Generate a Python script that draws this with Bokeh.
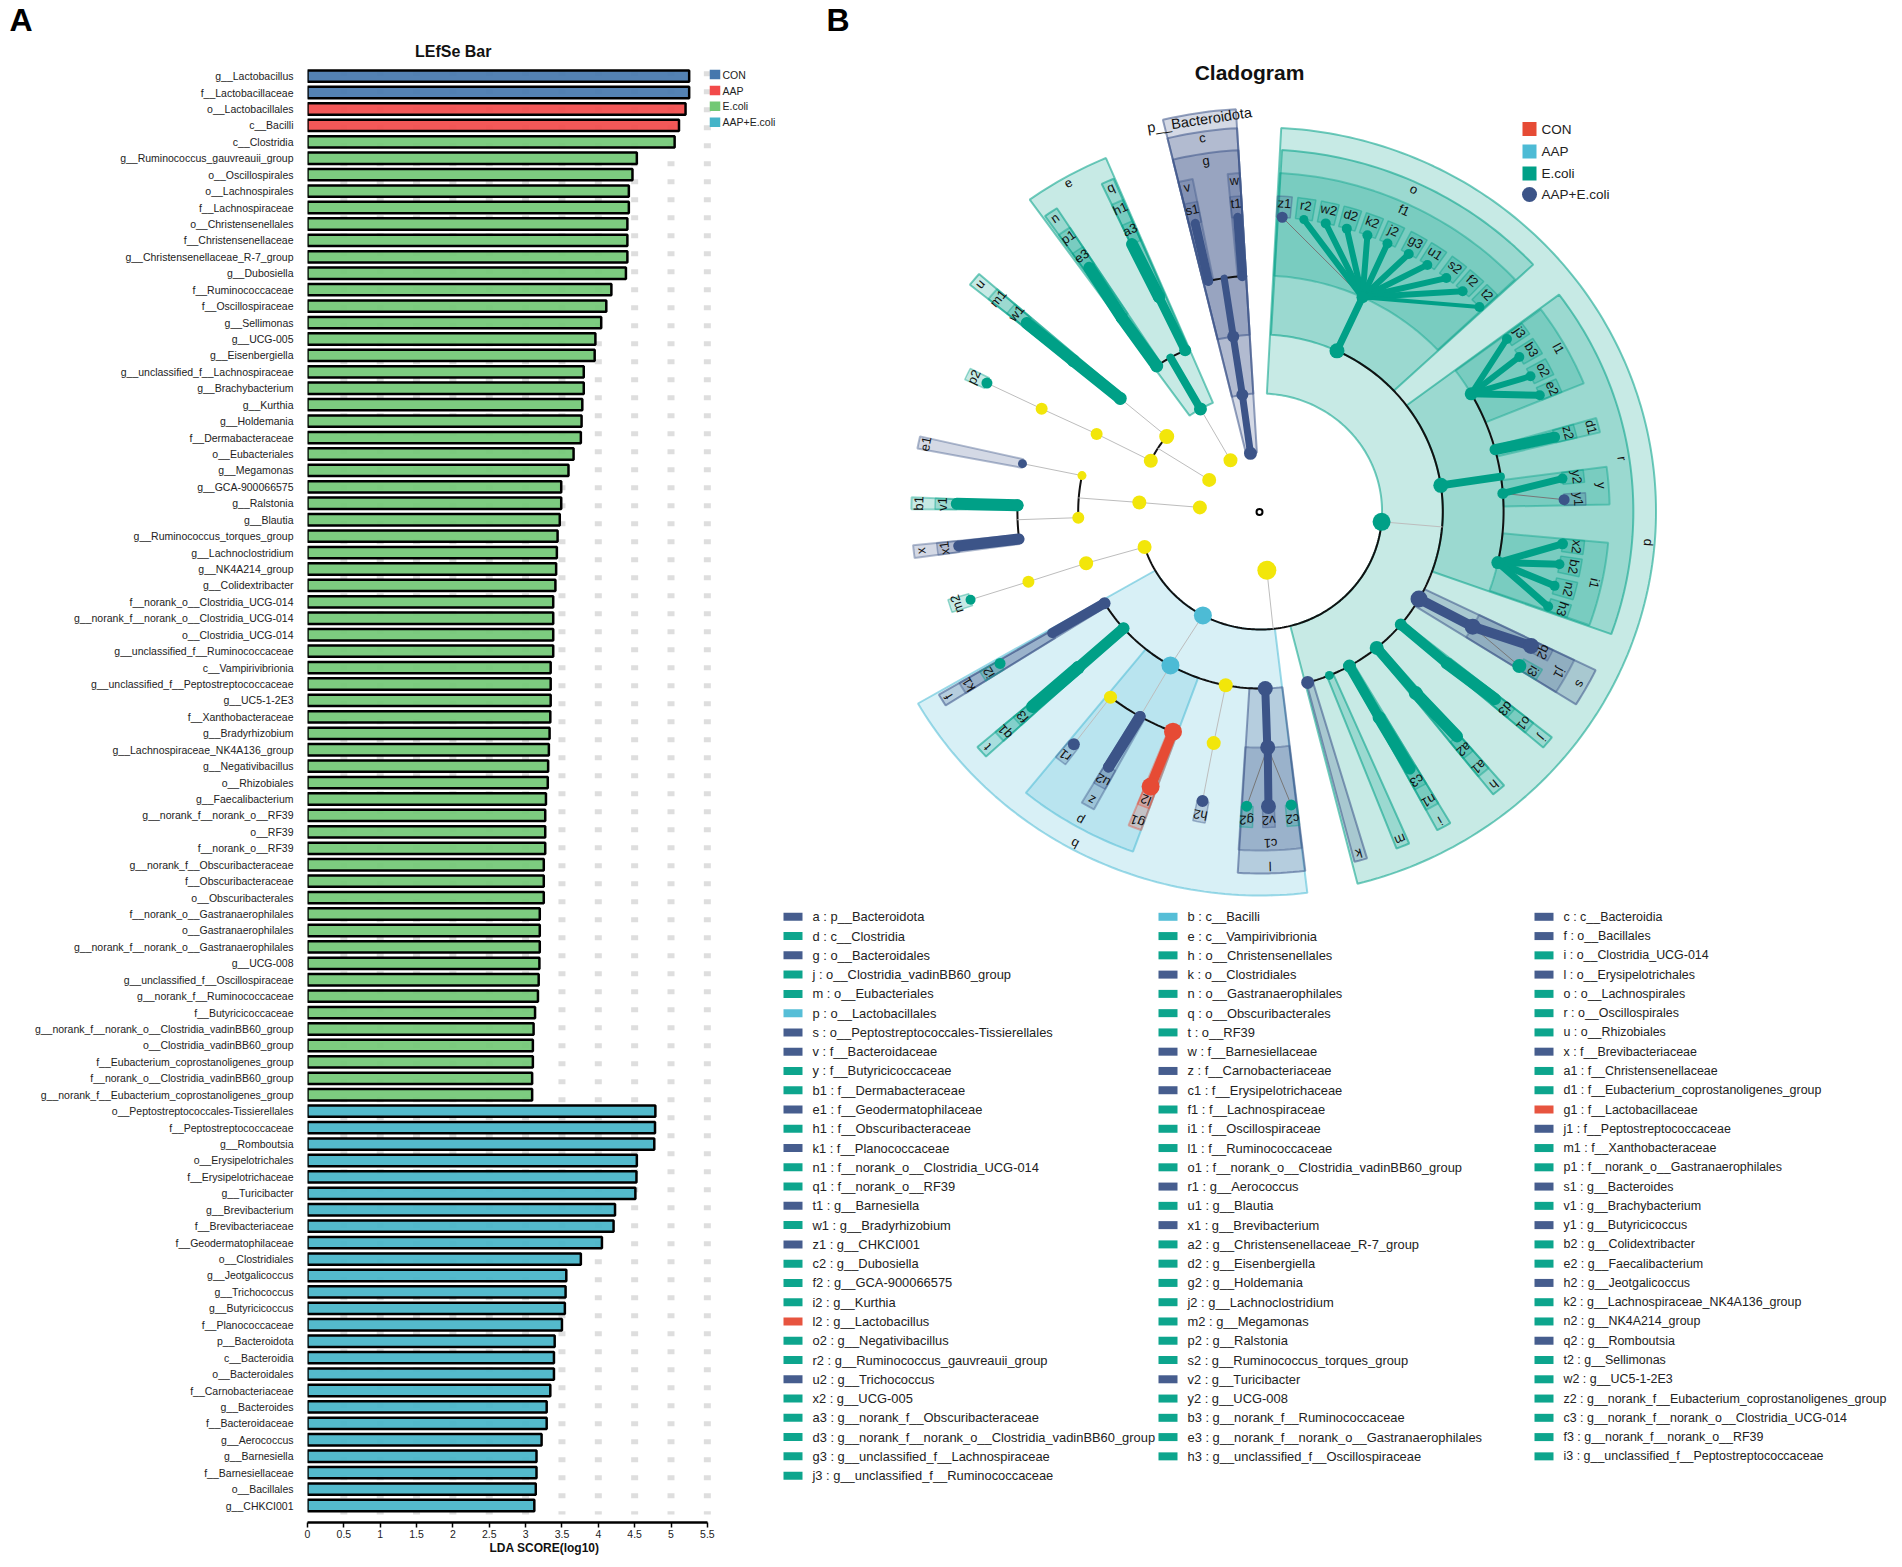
import math
from bokeh.embed import file_html
from bokeh.resources import INLINE
from bokeh.plotting import figure
from bokeh.layouts import row, column
from bokeh.models import FixedTicker, Range1d
from bokeh.core.properties import value

FONT = "Liberation Sans"

# ---------- Panel A data ----------
bar_names = [
 "g__Lactobacillus","f__Lactobacillaceae","o__Lactobacillales","c__Bacilli","c__Clostridia",
 "g__Ruminococcus_gauvreauii_group","o__Oscillospirales","o__Lachnospirales","f__Lachnospiraceae",
 "o__Christensenellales","f__Christensenellaceae","g__Christensenellaceae_R-7_group","g__Dubosiella",
 "f__Ruminococcaceae","f__Oscillospiraceae","g__Sellimonas","g__UCG-005","g__Eisenbergiella",
 "g__unclassified_f__Lachnospiraceae","g__Brachybacterium","g__Kurthia","g__Holdemania",
 "f__Dermabacteraceae","o__Eubacteriales","g__Megamonas","g__GCA-900066575","g__Ralstonia","g__Blautia",
 "g__Ruminococcus_torques_group","g__Lachnoclostridium","g__NK4A214_group","g__Colidextribacter",
 "f__norank_o__Clostridia_UCG-014","g__norank_f__norank_o__Clostridia_UCG-014","o__Clostridia_UCG-014",
 "g__unclassified_f__Ruminococcaceae","c__Vampirivibrionia","g__unclassified_f__Peptostreptococcaceae",
 "g__UC5-1-2E3","f__Xanthobacteraceae","g__Bradyrhizobium","g__Lachnospiraceae_NK4A136_group",
 "g__Negativibacillus","o__Rhizobiales","g__Faecalibacterium","g__norank_f__norank_o__RF39","o__RF39",
 "f__norank_o__RF39","g__norank_f__Obscuribacteraceae","f__Obscuribacteraceae","o__Obscuribacterales",
 "f__norank_o__Gastranaerophilales","o__Gastranaerophilales","g__norank_f__norank_o__Gastranaerophilales",
 "g__UCG-008","g__unclassified_f__Oscillospiraceae","g__norank_f__Ruminococcaceae","f__Butyricicoccaceae",
 "g__norank_f__norank_o__Clostridia_vadinBB60_group","o__Clostridia_vadinBB60_group",
 "f__Eubacterium_coprostanoligenes_group","f__norank_o__Clostridia_vadinBB60_group",
 "g__norank_f__Eubacterium_coprostanoligenes_group",
 "o__Peptostreptococcales-Tissierellales","f__Peptostreptococcaceae","g__Romboutsia","o__Erysipelotrichales",
 "f__Erysipelotrichaceae","g__Turicibacter","g__Brevibacterium","f__Brevibacteriaceae","f__Geodermatophilaceae",
 "o__Clostridiales","g__Jeotgalicoccus","g__Trichococcus","g__Butyricicoccus","f__Planococcaceae",
 "p__Bacteroidota","c__Bacteroidia","o__Bacteroidales","f__Carnobacteriaceae","g__Bacteroides","f__Bacteroidaceae",
 "g__Aerococcus","g__Barnesiella","f__Barnesiellaceae","o__Bacillales","g__CHKCI001"]
bar_values = [5.25,5.25,5.20,5.11,5.05,4.53,4.47,4.42,4.42,4.40,4.40,4.40,4.38,4.18,4.11,4.04,3.96,3.95,
 3.80,3.80,3.78,3.77,3.76,3.66,3.59,3.49,3.49,3.47,3.44,3.43,3.42,3.41,3.38,3.38,3.38,3.38,3.345,3.345,3.345,
 3.34,3.33,3.32,3.31,3.305,3.28,3.27,3.27,3.27,3.25,3.25,3.25,3.195,3.195,3.195,3.19,3.18,3.17,3.13,3.11,3.10,
 3.10,3.09,3.09,
 4.785,4.78,4.77,4.53,4.525,4.51,4.23,4.21,4.05,3.76,3.56,3.55,3.54,3.50,3.40,3.39,3.39,3.34,3.29,3.29,3.22,
 3.15,3.15,3.14,3.12]
group_sizes = [("CON",2),("AAP",2),("E.coli",59),("AAP+E.coli",25)]
bar_palette = {"CON":"#4577ad","AAP":"#f24a4a","E.coli":"#72c875","AAP+E.coli":"#45b4c8"}
x_ticks = [0,0.5,1,1.5,2,2.5,3,3.5,4,4.5,5,5.5]

bar_groups = [g for g,n in group_sizes for _ in range(n)]
rows = list(range(len(bar_names)))

W1=781; TOP=40; AXIS_Y=1522; PAGE_H=1560
X0=307; PXU = 72.7; ROW = 16.43; Y0=75.6
def ax(px): return (px-X0)/PXU
def ay(py): return (py-Y0)/ROW

head = figure(width=W1,height=TOP,output_backend="svg",toolbar_location=None,
              x_range=Range1d(0,W1),y_range=Range1d(TOP,0),x_axis_location=None,y_axis_location=None,
              min_border=0,background_fill_color="white",outline_line_color=None)
head.grid.visible=False
head.text(x=[9],y=[19.5],text=["A"],text_font=value(FONT),text_font_size="32px",text_font_style="bold",
          text_baseline="middle",text_color="black")

p1 = figure(width=W1,height=PAGE_H-TOP,output_backend="svg",toolbar_location=None,
            x_range=Range1d(0,(W1-X0)/PXU),y_range=Range1d(ay(AXIS_Y),ay(TOP)),
            min_border_left=X0,min_border_right=0,min_border_top=0,min_border_bottom=PAGE_H-AXIS_Y,
            background_fill_color="white",outline_line_color=None)
p1.grid.visible=False
xa=p1.xaxis[0]; ya=p1.yaxis[0]
xa.ticker=FixedTicker(ticks=x_ticks); xa.bounds=(0,5.5)
xa.major_label_overrides={t:str(t) for t in x_ticks}
xa.axis_line_color="black"; xa.axis_line_width=2.5
xa.major_tick_line_color="black"; xa.major_tick_line_width=1.5; xa.major_tick_out=5; xa.major_tick_in=0
xa.minor_tick_line_color=None
xa.major_label_text_font=FONT; xa.major_label_text_font_size="10.5px"; xa.major_label_text_color="#222222"
xa.major_label_standoff=2
xa.axis_label="LDA SCORE(log10)"; xa.axis_label_text_font=FONT; xa.axis_label_text_font_size="12px"
xa.axis_label_text_font_style="bold"; xa.axis_label_standoff=0; xa.axis_label_text_color="#111111"
ya.ticker=FixedTicker(ticks=rows)
ya.major_label_overrides={i:n for i,n in enumerate(bar_names)}
ya.axis_line_color=None; ya.major_tick_line_color=None; ya.minor_tick_line_color=None
ya.major_label_text_font=FONT; ya.major_label_text_font_size="10.5px"; ya.major_label_text_color="#222222"
ya.major_label_standoff=8

grid_x=[t for t in x_ticks if t>0]
p1.segment(x0=grid_x,x1=grid_x,y0=[ay(70.8)]*len(grid_x),y1=[ay(1514)]*len(grid_x),
           line_color="#dedede",line_width=7,line_dash="5 13")
p1.hbar(y=rows,left=0,right=bar_values,height=0.69,
        fill_color=[bar_palette[g] for g in bar_groups],fill_alpha=0.92,line_color="black",line_width=2.5)
p1.text(x=[ax(452.7)],y=[ay(50.5)],text=["LEfSe Bar"],text_font=value(FONT),text_font_size="16px",
        text_font_style="bold",text_align="center",text_baseline="middle",text_color="#111111")
leg_names=[g for g,_ in group_sizes]
leg_rows=[ay(74),ay(90),ay(105.7),ay(121.7)]
p1.rect(x=[ax(714.5)]*4,y=leg_rows,width=10.5/PXU,height=9.5/ROW,fill_color=[bar_palette[g] for g in leg_names],line_color=None)
p1.text(x=[ax(722)]*4,y=leg_rows,text=leg_names,text_font=value(FONT),text_font_size="10.5px",
        text_baseline="middle",text_color="#222222")

# ---------- Panel B data ----------
CON="#e64b35"; AAP="#4dbbd5"; EC="#00a087"; AE="#3c5488"; NS="#f2e60a"; THIN="#bdbdbd"
CX,CY,XS=1260,511,1.03
RING=[59,118,177,236,295]          # node rings
OUTER=[403,384,362,339,316]        # outer edge of the highlight that starts on a ring
LABEL_R=[396,378,355,332,309]      # label ring

# text, level, start angle, end angle, colour, label angle (None = middle)
sectors=[
 ("p__Bacteroidota",0,93.4,103.6,AE,98.6),("c",1,93.4,103.6,AE,98.6),("g",2,93.4,103.6,AE,98.6),
 ("v",3,101.2,103.6,AE,None),("w",3,93.4,95.4,AE,None),("s1",4,101.2,103.6,AE,None),("t1",4,93.4,95.4,AE,None),
 ("e",1,113,125.7,EC,119.6),("n",2,123.1,125.3,EC,None),("q",2,113.2,115.2,EC,None),("p1",3,123.1,125.3,EC,None),
 ("e3",4,123.1,125.3,EC,None),("h1",3,113.2,115.2,EC,None),("a3",4,113.2,115.2,EC,None),
 ("u",2,139,141.2,EC,None),("m1",3,139,141.2,EC,None),("w1",4,139,141.2,EC,None),("p2",4,153.1,155.3,EC,None),
 ("e1",3,167.2,169.3,AE,None),("b1",3,177.6,179.6,EC,None),("v1",4,177.6,179.6,EC,None),
 ("x",3,185.7,187.9,AE,None),("x1",4,185.7,187.9,AE,None),("m2",4,196.2,198.6,EC,None),
 ("d",1,-75.8,87,EC,-4.7),("o",2,43,86.7,EC,65.2),("f1",3,43.2,86.8,EC,65.2),
 ("z1",4,84.4,87,AE,None),("r2",4,80.2,83.4,EC,None),("w2",4,76,79.2,EC,None),("d2",4,71.9,75.1,EC,None),
 ("k2",4,67.8,71,EC,None),("j2",4,63.7,66.9,EC,None),("g3",4,59.2,62.4,EC,None),("u1",4,55.1,58.3,EC,None),
 ("s2",4,50.7,53.9,EC,None),("f2",4,46.7,49.9,EC,None),("t2",4,43.2,45.9,EC,None),
 ("r",2,-19.8,36.8,EC,8.6),("l1",3,22.2,36.6,EC,29.4),("j3",4,34.2,36.6,EC,None),("b3",4,30,33.2,EC,None),
 ("o2",4,25.7,28.9,EC,None),("e2",4,22.2,24.8,EC,None),("d1",3,13.5,16,EC,None),("z2",4,13.5,16,EC,None),
 ("y",3,1.2,7.6,EC,4.5),("y2",4,5.3,7.6,EC,None),("y1",4,1.2,3.4,AE,None),
 ("i1",3,-19.6,-5.3,EC,-12.5),("x2",4,-7.8,-5.3,EC,None),("b2",4,-11.9,-8.7,EC,None),("n2",4,-16.2,-13,EC,None),
 ("h3",4,-19.6,-17.2,EC,None),
 ("k",2,284.6,286.6,AE,None),("m",2,291.4,293.5,EC,None),("i",2,298.3,300.6,EC,None),("n1",3,298.3,300.6,EC,None),
 ("c3",4,298.3,300.6,EC,None),("h",2,308.6,310.8,EC,None),("a1",3,308.6,310.8,EC,None),("a2",4,308.6,310.8,EC,None),
 ("j",2,319.3,321.4,EC,None),("o1",3,319.3,321.4,EC,None),("d3",4,319.3,321.4,EC,None),
 ("s",2,327.8,334,AE,None),("j1",3,327.8,334,AE,None),("q2",4,331.8,334,AE,None),("i3",4,327.8,330,EC,None),
 ("b",1,210,276.8,AAP,241.5),("f",2,210.4,212.4,AE,None),("k1",3,210.4,212.4,AE,None),("i2",4,210.4,212.4,EC,None),
 ("t",2,220.6,222.6,EC,None),("q1",3,220.6,222.6,EC,None),("f3",4,220.6,222.6,EC,None),
 ("p",2,231,250,AAP,240.4),("r1",4,231,233.2,AE,None),("z",3,239.2,241.5,AE,None),("u2",4,239.2,241.5,AE,None),
 ("g1",3,247.8,250,CON,None),("l2",4,247.8,250,CON,None),("h2",4,258,260.2,AE,None),
 ("l",2,266.5,276.9,AE,271.5),("c1",3,266.4,276.8,AE,271.7),("g2",4,266.4,268.6,EC,None),("v2",4,270.4,272.6,AE,None),
 ("c2",4,274.7,276.9,EC,None),
]
# angle, ring, colour, diameter
nodes=[
 (276,0,NS,19),(119.6,0,NS,14),(147.6,0,NS,14),(176,0,NS,14),(140.5,1,NS,15),(154.5,1,NS,14),(175.6,1,NS,14),
 (197.5,1,NS,14),(154,2,NS,12),(168.3,2,NS,9),(182,2,NS,12),(197,2,NS,14),(154.2,3,NS,12),(197.3,3,NS,12),
 (231.9,3,NS,13),(259,2,NS,14),(258.9,3,NS,14),
 (-5,1,EC,18),(119.6,1,EC,13),(124.7,2,EC,13),(114.4,2,EC,12),(124.8,3,EC,12),(114.7,3,EC,12),(140.3,2,EC,13),
 (140.3,3,EC,13),(154.2,4,EC,11),(178.5,3,EC,12),(197.4,4,EC,10),(221.3,2,EC,12),(221.4,3,EC,13),(211,4,EC,11),
 (292.2,2,EC,9),(299.2,2,EC,13),(299.2,3,EC,13),(309.6,2,EC,14),(309.7,3,EC,14),(320.3,2,EC,12),(320,3,EC,12),
 (65.2,2,EC,15),(65.2,3,EC,12),(8.5,2,EC,15),(29.9,3,EC,13),(15.2,3,EC,10),(4.4,3,EC,11),(-12.5,3,EC,13),
 (81.8,4,EC,9),(77.6,4,EC,10),(73.5,4,EC,10),(69.4,4,EC,10),(65.3,4,EC,10),(60.8,4,EC,10),(56.7,4,EC,10),(52.3,4,EC,10),
 (48.3,4,EC,10),(43.9,4,EC,10),(35.8,4,EC,10),(31.6,4,EC,10),(27.3,4,EC,10),(23.2,4,EC,10),(14.6,4,EC,10),(6.4,4,EC,10),
 (-6.3,4,EC,11),(-10.3,4,EC,10),(-14.6,4,EC,10),(-18.8,4,EC,10),(328.4,4,EC,14),(267.4,4,EC,11),(275.8,4,EC,11),
 (99.5,0,AE,13),(98.6,1,AE,12),(98.6,2,AE,12),(102.4,3,AE,10),(94.3,3,AE,10),(168.3,3,AE,9),(186.7,3,AE,9),
 (211.2,2,AE,12),(240.3,3,AE,11),(240,4,AE,11),(232.1,4,AE,12),(259,4,AE,12),(271.5,2,AE,15),(271.7,3,AE,15),
 (271.5,4,AE,15),(285,2,AE,13),(330.4,2,AE,17),(330.8,3,AE,16),(332.9,4,AE,16),(85.9,4,AE,11),(2.3,4,AE,11),
 (241.7,1,AAP,18),(240.4,2,AAP,18),(248.9,3,CON,18),(248.8,4,CON,18),
]
# black linking arcs: ring, start angle, end angle
arcs=[(1,197.5,355),(1,140.5,154.5),(2,114.4,124.7),(2,168.3,182),(2,211.2,271.5),(2,285,425.2),
      (3,94.3,102.4),(3,178.5,186.7),(3,231.9,248.9),(3,-12.5,29.9)]
# branches: start angle, start ring, end angle, end ring, colour, width
branches=[
 (119.6,0,119.6,1,THIN,1),(147.6,0,147.6,1,THIN,1),(176,0,175.6,1,THIN,1),(175.6,1,175.6,2,THIN,1),
 (140.5,1,140.3,2,THIN,1),(154.5,1,154,2,THIN,1),(154,2,154.2,3,THIN,1),(154.2,3,154.2,4,THIN,1),
 (168.3,2,168.3,3,THIN,1),(182,2,182,3,THIN,1),(197.5,1,197,2,THIN,1),(197,2,197.3,3,THIN,1),(197.3,3,197.4,4,THIN,1),
 (276,0,276,1,THIN,1),(-5,1,-5,2,THIN,1),(241.7,1,240.4,2,THIN,1),(240.4,2,240.3,3,THIN,1),(231.9,3,232.1,4,THIN,1),
 (259,2,258.9,3,THIN,1),(258.9,3,259,4,THIN,1),(271.7,3,267.4,4,"#777777",1),(271.7,3,275.8,4,"#777777",1),
 (330.8,3,328.4,4,"#777777",1),(65.2,3,85.9,4,"#777777",1),(4.4,3,2.3,4,"#777777",1),
 (99.5,0,98.6,1,AE,7),(98.6,1,98.6,2,AE,7),(98.6,2,98.6,3,AE,7),(102.4,3,102.4,4,AE,9),(94.3,3,94.3,4,AE,9),
 (186.7,3,186.7,4,AE,11),(211.2,2,211,3,AE,10),(240.3,3,240,4,AE,11),(271.5,2,271.6,3,AE,8),(271.7,3,271.5,4,AE,8),
 (330.4,2,330.8,3,AE,10),(330.8,3,332.9,4,AE,10),
 (119.6,1,119.6,2,EC,8),(124.7,2,124.8,3,EC,12),(124.8,3,124.3,4,EC,12),(114.4,2,114.7,3,EC,9),(114.7,3,115,4,EC,12),
 (140.3,2,140.3,3,EC,12),(140.3,3,140.3,4,EC,12),(178.5,3,178.5,4,EC,12),(221.3,2,221.4,3,EC,11),(221.4,3,221.4,4,EC,13),
 (299.2,2,299.2,3,EC,10),(299.2,3,299.4,4,EC,12),(309.6,2,309.7,3,EC,10),(309.7,3,310.3,4,EC,12),
 (320.3,2,320,3,EC,10),(320,3,320.5,4,EC,12),(65.2,2,65.2,3,EC,7),
 (65.2,3,81.8,4,EC,6),(65.2,3,77.6,4,EC,6),(65.2,3,73.5,4,EC,6),(65.2,3,69.4,4,EC,6),(65.2,3,65.3,4,EC,6),
 (65.2,3,60.8,4,EC,6),(65.2,3,56.7,4,EC,6),(65.2,3,52.3,4,EC,6),(65.2,3,48.3,4,EC,6),(65.2,3,43.9,4,EC,4),
 (8.5,2,8.5,3,EC,8),(29.9,3,35.8,4,EC,6),(29.9,3,31.6,4,EC,6),(29.9,3,27.3,4,EC,6),(29.9,3,23.2,4,EC,7),
 (15.2,3,14.6,4,EC,11),(4.4,3,6.4,4,EC,7),(-12.5,3,-6.3,4,EC,7),(-12.5,3,-10.3,4,EC,7),(-12.5,3,-14.6,4,EC,7),
 (-12.5,3,-18.8,4,EC,7),(248.9,3,248.8,4,CON,10),
]
clade_names=["CON","AAP","E.coli","AAP+E.coli"]
clade_colors=[CON,AAP,EC,AE]

key_entries=[
 ("a","p__Bacteroidota",AE),("b","c__Bacilli",AAP),("c","c__Bacteroidia",AE),
 ("d","c__Clostridia",EC),("e","c__Vampirivibrionia",EC),("f","o__Bacillales",AE),
 ("g","o__Bacteroidales",AE),("h","o__Christensenellales",EC),("i","o__Clostridia_UCG-014",EC),
 ("j","o__Clostridia_vadinBB60_group",EC),("k","o__Clostridiales",AE),("l","o__Erysipelotrichales",AE),
 ("m","o__Eubacteriales",EC),("n","o__Gastranaerophilales",EC),("o","o__Lachnospirales",EC),
 ("p","o__Lactobacillales",AAP),("q","o__Obscuribacterales",EC),("r","o__Oscillospirales",EC),
 ("s","o__Peptostreptococcales-Tissierellales",AE),("t","o__RF39",EC),("u","o__Rhizobiales",EC),
 ("v","f__Bacteroidaceae",AE),("w","f__Barnesiellaceae",AE),("x","f__Brevibacteriaceae",AE),
 ("y","f__Butyricicoccaceae",EC),("z","f__Carnobacteriaceae",AE),("a1","f__Christensenellaceae",EC),
 ("b1","f__Dermabacteraceae",EC),("c1","f__Erysipelotrichaceae",AE),("d1","f__Eubacterium_coprostanoligenes_group",EC),
 ("e1","f__Geodermatophilaceae",AE),("f1","f__Lachnospiraceae",EC),("g1","f__Lactobacillaceae",CON),
 ("h1","f__Obscuribacteraceae",EC),("i1","f__Oscillospiraceae",EC),("j1","f__Peptostreptococcaceae",AE),
 ("k1","f__Planococcaceae",AE),("l1","f__Ruminococcaceae",EC),("m1","f__Xanthobacteraceae",EC),
 ("n1","f__norank_o__Clostridia_UCG-014",EC),("o1","f__norank_o__Clostridia_vadinBB60_group",EC),("p1","f__norank_o__Gastranaerophilales",EC),
 ("q1","f__norank_o__RF39",EC),("r1","g__Aerococcus",AE),("s1","g__Bacteroides",AE),
 ("t1","g__Barnesiella",AE),("u1","g__Blautia",EC),("v1","g__Brachybacterium",EC),
 ("w1","g__Bradyrhizobium",EC),("x1","g__Brevibacterium",AE),("y1","g__Butyricicoccus",AE),
 ("z1","g__CHKCI001",AE),("a2","g__Christensenellaceae_R-7_group",EC),("b2","g__Colidextribacter",EC),
 ("c2","g__Dubosiella",EC),("d2","g__Eisenbergiella",EC),("e2","g__Faecalibacterium",EC),
 ("f2","g__GCA-900066575",EC),("g2","g__Holdemania",EC),("h2","g__Jeotgalicoccus",AE),
 ("i2","g__Kurthia",EC),("j2","g__Lachnoclostridium",EC),("k2","g__Lachnospiraceae_NK4A136_group",EC),
 ("l2","g__Lactobacillus",CON),("m2","g__Megamonas",EC),("n2","g__NK4A214_group",EC),
 ("o2","g__Negativibacillus",EC),("p2","g__Ralstonia",EC),("q2","g__Romboutsia",AE),
 ("r2","g__Ruminococcus_gauvreauii_group",EC),("s2","g__Ruminococcus_torques_group",EC),("t2","g__Sellimonas",EC),
 ("u2","g__Trichococcus",AE),("v2","g__Turicibacter",AE),("w2","g__UC5-1-2E3",EC),
 ("x2","g__UCG-005",EC),("y2","g__UCG-008",EC),("z2","g__norank_f__Eubacterium_coprostanoligenes_group",EC),
 ("a3","g__norank_f__Obscuribacteraceae",EC),("b3","g__norank_f__Ruminococcaceae",EC),("c3","g__norank_f__norank_o__Clostridia_UCG-014",EC),
 ("d3","g__norank_f__norank_o__Clostridia_vadinBB60_group",EC),("e3","g__norank_f__norank_o__Gastranaerophilales",EC),("f3","g__norank_f__norank_o__RF39",EC),
 ("g3","g__unclassified_f__Lachnospiraceae",EC),("h3","g__unclassified_f__Oscillospiraceae",EC),("i3","g__unclassified_f__Peptostreptococcaceae",EC),
 ("j3","g__unclassified_f__Ruminococcaceae",EC),
]

def px(a,r): return CX+XS*r*math.cos(math.radians(a))
def py(a,r): return CY-r*math.sin(math.radians(a))
def arc_pts(a0,a1,r):
    n=max(2,int(abs(a1-a0))+2)
    aa=[a0+(a1-a0)*k/(n-1) for k in range(n)]
    return [px(a,r) for a in aa],[py(a,r) for a in aa]

p2 = figure(width=1900-W1,height=PAGE_H,output_backend="svg",toolbar_location=None,
            x_range=Range1d(W1,1900),y_range=Range1d(PAGE_H,0),
            x_axis_location=None,y_axis_location=None,
            min_border=0,background_fill_color="white",outline_line_color=None)
p2.grid.visible=False

for lvl in range(5):
    xs,ys,cols=[],[],[]
    for t,l,a0,a1,c,la in sectors:
        if l!=lvl: continue
        x1,y1=arc_pts(a0,a1,RING[l]); x2,y2=arc_pts(a1,a0,OUTER[l])
        xs.append(x1+x2); ys.append(y1+y2); cols.append(c)
    p2.patches(xs,ys,fill_color=cols,fill_alpha=0.22,line_color=cols,
               line_alpha=0.55 if lvl<3 else 0.4,line_width=2 if lvl<4 else 1.5)

for l,a0,a1 in arcs:
    x,y=arc_pts(a0,a1,RING[l])
    p2.line(x,y,line_color="#111111",line_width=2)

p2.segment(x0=[px(b[0],RING[b[1]]) for b in branches],y0=[py(b[0],RING[b[1]]) for b in branches],
           x1=[px(b[2],RING[b[3]]) for b in branches],y1=[py(b[2],RING[b[3]]) for b in branches],
           line_color=[b[4] for b in branches],line_width=[b[5] for b in branches],line_cap="round")

p2.scatter(x=[px(n[0],RING[n[1]]) for n in nodes],y=[py(n[0],RING[n[1]]) for n in nodes],
           size=[n[3] for n in nodes],fill_color=[n[2] for n in nodes],line_color=None)
p2.scatter(x=[1259],y=[511.5],size=6,fill_color="white",line_color="black",line_width=2)

for t,l,a0,a1,c,la in sectors:
    ang=la if la is not None else (a0+a1)/2
    p2.text(x=[px(ang,LABEL_R[l])],y=[py(ang,LABEL_R[l])],text=[t],angle=[math.radians(ang-90)],
            text_font=value(FONT),text_font_size="14.5px" if l==0 else "13px",
            text_align="center",text_baseline="middle",text_color="#111111")

p2.text(x=[1249],y=[72],text=["Cladogram"],text_font=value(FONT),text_font_size="21px",text_font_style="bold",
        text_align="center",text_baseline="middle",text_color="#111111")
p2.text(x=[826],y=[19.5],text=["B"],text_font=value(FONT),text_font_size="32px",text_font_style="bold",
        text_baseline="middle",text_color="black")

ky=[128.5,151,173]
p2.rect(x=[1529]*3,y=ky,width=14,height=14,fill_color=clade_colors[:3],line_color=None)
p2.scatter(x=[1529],y=[194],size=15,fill_color=clade_colors[3],line_color=None)
p2.text(x=[1541]*4,y=ky+[194],text=clade_names,text_font=value(FONT),text_font_size="13.5px",
        text_baseline="middle",text_color="#222222")

key_col_x=[783,1158,1534]
key_font=["12.9px","12.9px","12.45px"]
kx=[key_col_x[i%3] for i in range(len(key_entries))]
ky2=[916.3+19.27*(i//3) for i in range(len(key_entries))]
p2.rect(x=[v+9.5 for v in kx],y=ky2,width=19,height=8,fill_color=[e[2] for e in key_entries],fill_alpha=0.95,line_color=None)
for c in range(3):
    p2.text(x=[kx[i]+29 for i in range(c,len(key_entries),3)],y=[ky2[i] for i in range(c,len(key_entries),3)],
            text=[f"{key_entries[i][0]} : {key_entries[i][1]}" for i in range(c,len(key_entries),3)],
            text_font=value(FONT),text_font_size=key_font[c],text_baseline="middle",text_color="#222222")

layout=row(column(row(head,spacing=0),p1,spacing=0),p2,spacing=0)
open("out.html","w").write(file_html(layout,INLINE))
